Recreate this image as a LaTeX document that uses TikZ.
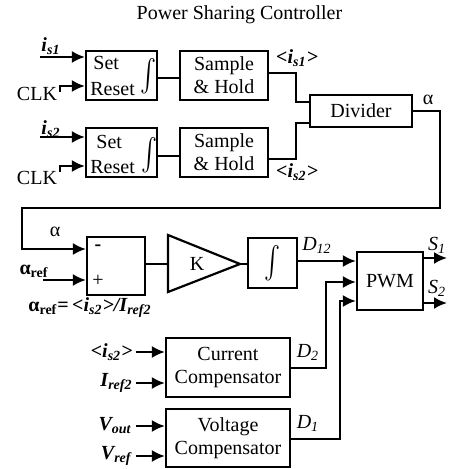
\documentclass[tikz,border=0pt]{standalone}
\usepackage{fontspec}
\setmainfont{Liberation Serif}
\usepackage{graphicx}
\usetikzlibrary{arrows.meta,calc}
\newcommand{\bi}[1]{\textbf{\textit{#1}}}
\begin{document}
\begin{tikzpicture}[x=0.5pt,y=-0.5pt,
  font=\fontsize{10}{11.5}\selectfont,
  blk/.style={draw,line width=1.1pt,inner sep=0pt,align=center},
  lbl/.style={inner sep=0pt},
  ln/.style={line width=1.1pt},
  arr/.style={line width=1.1pt,-{Latex[length=6.5pt,width=6pt]}}]
\useasboundingbox (0,0) rectangle (448,469);
\node[lbl] (title) at (239.5,15) {Power Sharing Controller};
% top row
\node[blk,minimum width=35.5pt,minimum height=24.5pt] (sr1) at (121.5,75.5) {};
\node[lbl,anchor=west] (set1) at (93,63) {Set};
\node[lbl,anchor=west] (rst1) at (90,89) {Reset};
\node[lbl] (in1) at (148.5,76) {\scalebox{1.2}[1.6]{$\int$}};
\node[blk,minimum width=44pt,minimum height=24.5pt] (sh1) at (224,75.5) {Sample\\\& Hold};
\node[blk,minimum width=35.5pt,minimum height=24.5pt] (sr2) at (121.5,152.5) {};
\node[lbl,anchor=west] (set2) at (96,142) {Set};
\node[lbl,anchor=west] (rst2) at (90,167) {Reset};
\node[lbl] (in2) at (149,155) {\scalebox{1.2}[1.6]{$\int$}};
\node[blk,minimum width=44pt,minimum height=24.5pt] (sh2) at (224,152.5) {Sample\\\& Hold};
\node[blk,minimum width=51pt,minimum height=16pt] (div) at (361,111) {Divider};
% inputs
\node[lbl] (is1) at (51,46) {\bi{i\textsubscript{s1}}};
\node[lbl] (clk1) at (37,94) {CLK};
\node[lbl] (is2) at (51,129) {\bi{i\textsubscript{s2}}};
\node[lbl] (clk2) at (37,178) {CLK};
\coordinate (is1s) at (40,57);
\coordinate (is2s) at (40,137);
\coordinate (clk1s) at (60,92);
\coordinate (clk2s) at (60,172);
\draw[arr] (is1s) -- (sr1.west |- is1s);
\draw[arr] (is2s) -- (sr2.west |- is2s);
\draw[arr] (clk1s) -- (60,86) -- (sr1.west |- 0,86);
\draw[arr] (clk2s) -- (60,166) -- (sr2.west |- 0,166);
\draw[ln] (sr1.east |- 0,78) -- (sh1.west |- 0,78);
\draw[ln] (sr2.east |- 0,156) -- (sh2.west |- 0,156);
\draw[ln] (sh1.east |- 0,73) -| (296,102) -- (div.west |- 0,102);
\draw[ln] (sh2.east |- 0,159) -| (296,123) -- (div.west |- 0,123);
\node[lbl] (avs1) at (297,58) {\bi{<i\textsubscript{s1}>}};
\node[lbl] (avs2) at (297,172) {\bi{<i\textsubscript{s2}>}};
\node[lbl] (al1) at (428,100) {α};
% middle row
\node[blk,minimum width=29pt,minimum height=29pt] (sum) at (116,266) {};
\node[lbl] (minus) at (98,248) {\textbf{-}};
\node[lbl] (plus) at (98,281) {+};
\draw[arr] (div.east) -- (440,111) -- (440,208) -- (22,208) -- (22,249) -- (sum.west |- 0,249);
\node[lbl] (al2) at (55,232) {α};
\node[lbl] (alref) at (34,271) {\textbf{α\textsubscript{ref}}};
\coordinate (alrefs) at (43,280);
\draw[arr] (alrefs) -- (sum.west |- alrefs);
\node[lbl] (formula) at (90,308) {\textbf{α\textsubscript{ref}=\,\textit{<i\textsubscript{s2}>/I\textsubscript{ref2}}}};
\coordinate (kin) at (168,264);
\coordinate (kout) at (240,264);
\draw[ln,line join=miter] (168,235) -- (kout) -- (168,292) -- cycle;
\node[lbl] (K) at (197,264) {K};
\draw[ln] (sum.east |- kin) -- (kin);
\node[blk,minimum width=24.5pt,minimum height=25pt] (intg) at (272.5,263) {\scalebox{1.2}[1.6]{$\int$}};
\draw[ln] (kout) -- (intg.west |- kout);
\node[blk,minimum width=33pt,minimum height=29pt] (pwm) at (390,281) {PWM};
\draw[arr] (intg.east |- 0,261) -- (pwm.west |- 0,261);
\node[lbl] (d12) at (317,245) {\textit{D}\textsubscript{\textit{12}}};
\coordinate (s1e) at (447,258);
\coordinate (s2e) at (447,303);
\draw[arr] (pwm.east |- s1e) -- (s1e);
\draw[arr] (pwm.east |- s2e) -- (s2e);
\node[lbl] (s1) at (437,245) {\textit{S}\textsubscript{\textit{1}}};
\node[lbl] (s2) at (437,288) {\textit{S}\textsubscript{\textit{2}}};
% compensators
\node[blk,minimum width=62pt,minimum height=29.5pt] (cc) at (228,367.5) {Current\\Compensator};
\node[blk,minimum width=62pt,minimum height=29pt] (vc) at (228,438) {Voltage\\Compensator};
\draw[arr] (cc.east |- 0,368) -| (326,282) -- (pwm.west |- 0,282);
\draw[arr] (vc.east |- 0,439) -| (340,301) -- (pwm.west |- 0,301);
\node[lbl] (d2) at (308,352) {\textit{D}\textsubscript{\textit{2}}};
\node[lbl] (d1) at (308,423) {\textit{D}\textsubscript{\textit{1}}};
\node[lbl,anchor=east] (ccin1) at (133,352) {\bi{<i\textsubscript{s2}>}};
\node[lbl,anchor=east] (ccin2) at (133,383) {\bi{I\textsubscript{ref2}}};
\node[lbl,anchor=east] (vcin1) at (132,426) {\bi{V\textsubscript{out}}};
\node[lbl,anchor=east] (vcin2) at (132,456) {\bi{V\textsubscript{ref}}};
\draw[arr] (ccin1.east -| 136,0) -- (cc.west |- ccin1.east);
\draw[arr] (ccin2.east -| 136,0) -- (cc.west |- ccin2.east);
\draw[arr] (vcin1.east -| 136,0) -- (vc.west |- vcin1.east);
\draw[arr] (vcin2.east -| 136,0) -- (vc.west |- vcin2.east);
\end{tikzpicture}
\end{document}
